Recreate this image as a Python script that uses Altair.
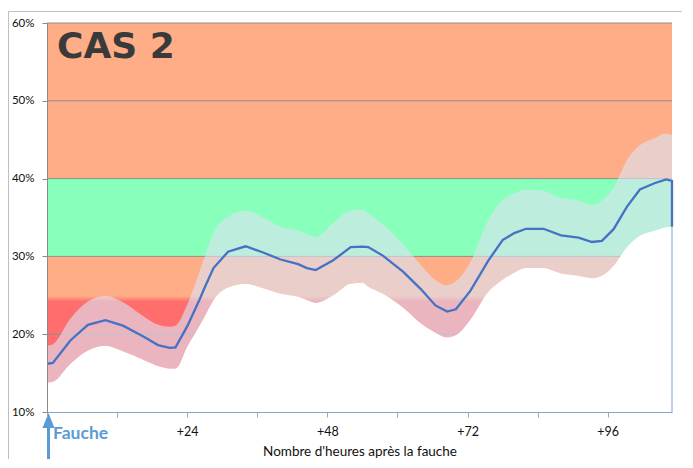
import altair as alt
import pandas as pd

# ---- data ----
hours = [0, 1, 4, 7, 10, 13, 16.5, 19, 21, 22, 24, 26.2, 27, 28.5, 31, 34, 37, 40, 43, 44.5,
         46, 49, 52, 54, 55, 57.5, 61, 64, 66.5, 68.5, 70, 72.5, 75.5, 78, 80, 82, 85, 88,
         91, 93.3, 95, 97, 99.3, 101.5, 104, 106, 107]
humidity = [16.2, 16.3, 19.2, 21.2, 21.8, 21.1, 19.7, 18.6, 18.25, 18.3, 21.0, 24.6, 26.0, 28.5,
            30.6, 31.3, 30.5, 29.6, 29.0, 28.5, 28.25, 29.5, 31.2, 31.25, 31.2, 30.1, 28.0, 25.8,
            23.7, 22.9, 23.2, 25.6, 29.4, 32.1, 33.0, 33.55, 33.55, 32.7, 32.4, 31.85, 32.0, 33.5,
            36.4, 38.6, 39.4, 39.9, 39.7]
upper = [18.5, 18.7, 22.0, 24.2, 24.9, 24.1, 22.3, 21.2, 20.96, 21.1, 23.8, 28.25, 30.0, 33.0,
         35.1, 35.9, 35.0, 33.8, 33.3, 32.9, 32.5, 34.3, 35.9, 36.0, 35.5, 34.1, 31.5, 28.9,
         26.95, 26.3, 26.8, 29.3, 34.6, 37.25, 38.1, 38.6, 38.45, 37.5, 37.2, 36.6, 37.2, 38.8,
         42.4, 44.3, 45.2, 45.8, 45.6]
lower = [13.8, 13.9, 16.2, 17.9, 18.5, 17.8, 16.7, 15.9, 15.6, 15.6, 18.4, 21.2, 22.3, 24.4,
         26.0, 26.5, 25.9, 25.2, 24.8, 24.4, 24.05, 25.0, 26.5, 26.6, 26.1, 25.2, 23.4, 21.4,
         20.2, 19.6, 19.9, 21.9, 25.4, 27.0, 27.9, 28.5, 28.5, 27.8, 27.5, 27.2, 27.5, 28.8,
         31.2, 32.65, 33.3, 33.75, 33.8]
end_drop = 33.8

band_lo = [40, 30]
band_hi = [60, 40]
band_fill = ["#FFAD86", "#88FFBA"]
red_zone = [10, 30]
grid_vals = [20, 30, 40, 50, 60]
x_ticks = [0, 12, 24, 36, 48, 60, 72, 84, 96]
y_ticks = [10, 20, 30, 40, 50, 60]
title_text = "CAS 2"
marker_text = "Fauche"
x_title = "Nombre d'heures après la fauche"

ORANGE = "#FFAD86"
RED = "#FF6D6D"
X_MAX = 107

xs = alt.Scale(domain=[0, X_MAX], nice=False, zero=False)
ys = alt.Scale(domain=[10, 60], nice=False, zero=False)

x_axis = alt.Axis(
    values=x_ticks,
    labelExpr="datum.value > 0 && datum.value % 24 == 0 ? '+' + datum.value : ''",
    title=x_title, grid=False, domainColor="#8DA3CC", tickColor="#A6A6A6", tickSize=5,
    labelFont="Lato", labelFontSize=12.5, labelColor="#111111", labelPadding=8,
    labelFlush=False, titleFont="Lato", titleFontSize=13.5, titleFontWeight="normal",
    titleColor="#111111", titlePadding=7, zindex=1,
)
y_axis = alt.Axis(
    values=y_ticks, labelExpr="datum.value + '%'", title=None, grid=False,
    domainColor="#8A8A8A", tickColor="#8A8A8A", tickSize=5, labelFont="Lato",
    labelFontSize=11.5, labelColor="#111111", labelPadding=8, zindex=1,
)


def X(field):
    return alt.X(field, scale=xs, axis=x_axis)


def Y(field):
    return alt.Y(field, scale=ys, axis=y_axis)


df = pd.DataFrame({"h": hours, "v": humidity, "hi": upper, "lo": lower})
df["base"] = 10
line_df = pd.DataFrame({"h": hours + [hours[-1]], "v": humidity + [end_drop]})
line_df["i"] = range(len(line_df))
bands_df = pd.DataFrame({"y": band_lo, "y2": band_hi, "c": band_fill})
bands_df["x"] = 0
bands_df["x2"] = X_MAX
red_df = pd.DataFrame({"y": [red_zone[0]], "y2": [red_zone[1]], "x": [0], "x2": [X_MAX]})
grid_df = pd.DataFrame({"g": grid_vals})
edge_df = pd.DataFrame({"h": [hours[-1]], "lo": [lower[-1]], "base": [10]})
one = pd.DataFrame({"a": [0]})

bands = alt.Chart(bands_df).mark_rect().encode(
    x=X("x:Q"), x2="x2:Q", y=Y("y:Q"), y2="y2:Q",
    color=alt.Color("c:N", scale=None),
)

red = alt.Chart(red_df).mark_rect(
    color=alt.Gradient(
        gradient="linear",
        stops=[alt.GradientStop(color=RED, offset=0),
               alt.GradientStop(color=RED, offset=0.71),
               alt.GradientStop(color=ORANGE, offset=0.745),
               alt.GradientStop(color=ORANGE, offset=1)],
        x1=0, x2=0, y1=1, y2=0)
).encode(x=X("x:Q"), x2="x2:Q", y=Y("y:Q"), y2="y2:Q")

grid = alt.Chart(grid_df).mark_rule(color="#8E8E8E", strokeWidth=1).encode(y=Y("g:Q"))

band = alt.Chart(df).mark_area(color="#DDE2F2", opacity=0.62, interpolate="monotone").encode(
    x=X("h:Q"), y=Y("hi:Q"), y2="lo:Q",
)

white = alt.Chart(df).mark_area(color="white", opacity=1, interpolate="monotone").encode(
    x=X("h:Q"), y=Y("lo:Q"), y2="base:Q",
)

edge = alt.Chart(edge_df).mark_rule(color="#7F9FD8", strokeWidth=1).encode(
    x=X("h:Q"), y=Y("lo:Q"), y2="base:Q",
)

line = alt.Chart(line_df).mark_line(color="#4472C4", strokeWidth=2.3).encode(
    x=X("h:Q"), y=Y("v:Q"), order="i:Q",
)

title = alt.Chart(one).mark_text(
    text=title_text, font="DejaVu Sans", fontWeight="bold", fontSize=36,
    color="#3A3A3A", align="left", baseline="alphabetic",
).encode(x=alt.value(10), y=alt.value(35))

arrow_shaft = alt.Chart(one).mark_rule(color="#5B9BD5", strokeWidth=3).encode(
    x=alt.value(1.5), y=alt.value(398), y2=alt.value(440)
)
arrow_head = alt.Chart(one).mark_point(
    shape="M0,-1L0.5,0.25L-0.5,0.25Z", size=576, filled=True, color="#5B9BD5", opacity=1
).encode(x=alt.value(1.5), y=alt.value(402))
fauche = alt.Chart(one).mark_text(
    text=marker_text, font="Lato", fontWeight="bold", fontSize=17.5, color="#5B9BD5",
    align="left", baseline="alphabetic",
).encode(x=alt.value(6), y=alt.value(416))

frame = alt.Chart(one).mark_rect(fillOpacity=0, stroke="#BFBFBF", strokeWidth=1).encode(
    x=alt.value(-38.5), x2=alt.value(800), y=alt.value(-11.5), y2=alt.value(700)
)

chart = alt.layer(
    frame, bands, red, grid, band, white, edge, line, title, arrow_shaft, arrow_head, fauche
).properties(
    width=625, height=389,
    autosize=alt.AutoSizeParams(type="none"),
    padding={"left": 39, "top": 15, "right": 10, "bottom": 47},
).configure_view(stroke=None)

chart.save("out.html", embed_options={"renderer": "svg", "actions": False})
